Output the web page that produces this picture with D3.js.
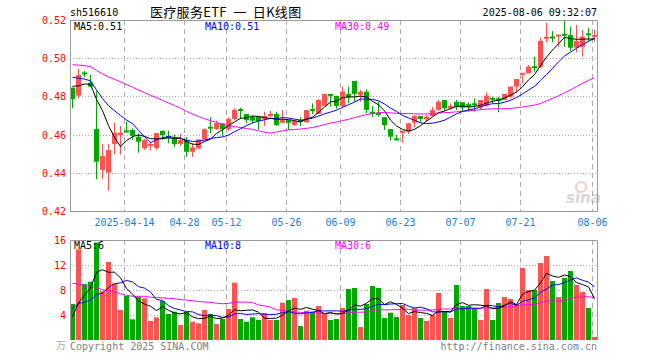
<!DOCTYPE html>
<html><head><meta charset="utf-8">
<script src="https://cdn.jsdelivr.net/npm/d3@7"></script>
<style>html,body{margin:0;padding:0;background:#fff;}svg{display:block;}</style>
</head><body>
<svg id="c" width="660" height="360"></svg>
<script>
// ---------- data ----------
const dates = [
"2025-03-31","2025-04-01","2025-04-02","2025-04-03","2025-04-07","2025-04-08","2025-04-09","2025-04-10","2025-04-11",
"2025-04-14","2025-04-15","2025-04-16","2025-04-17","2025-04-18","2025-04-21","2025-04-22","2025-04-23","2025-04-24","2025-04-25",
"2025-04-28","2025-04-29","2025-04-30",
"2025-05-06","2025-05-07","2025-05-08","2025-05-09","2025-05-12","2025-05-13","2025-05-14","2025-05-15","2025-05-16",
"2025-05-19","2025-05-20","2025-05-21","2025-05-22","2025-05-23","2025-05-26","2025-05-27","2025-05-28","2025-05-29","2025-05-30",
"2025-06-03","2025-06-04","2025-06-05","2025-06-06","2025-06-09","2025-06-10","2025-06-11","2025-06-12","2025-06-13",
"2025-06-16","2025-06-17","2025-06-18","2025-06-19","2025-06-20","2025-06-23","2025-06-24","2025-06-25","2025-06-26","2025-06-27","2025-06-30",
"2025-07-01","2025-07-02","2025-07-03","2025-07-04","2025-07-07","2025-07-08","2025-07-09","2025-07-10","2025-07-11",
"2025-07-14","2025-07-15","2025-07-16","2025-07-17","2025-07-18","2025-07-21","2025-07-22","2025-07-23","2025-07-24","2025-07-25",
"2025-07-28","2025-07-29","2025-07-30","2025-07-31","2025-08-01","2025-08-04","2025-08-05","2025-08-06"];

const open = [0.4846,0.4804,0.4922,0.4872,0.4629,0.4415,0.4401,0.4551,0.4598,0.4619,
0.4624,0.4589,0.4528,0.4540,0.4530,0.4620,0.4590,0.4582,0.4551,0.4572,
0.4510,0.4528,0.4575,0.4638,0.4628,0.4659,0.4628,0.4682,0.4730,0.4708,
0.4694,0.4694,0.4682,0.4697,0.4708,0.4662,0.4676,0.4650,0.4673,0.4664,
0.4731,0.4708,0.4750,0.4813,0.4803,0.4750,0.4813,0.4881,0.4807,0.4825,
0.4720,0.4710,0.4691,0.4629,0.4577,0.4610,0.4615,0.4662,0.4697,0.4680,
0.4697,0.4729,0.4781,0.4738,0.4772,0.4769,0.4759,0.4762,0.4741,0.4751,
0.4789,0.4790,0.4781,0.4798,0.4851,0.4916,0.4921,0.4955,0.4955,0.5104,
0.5110,0.5116,0.5124,0.5121,0.5055,0.5060,0.5127,0.5113];
const high = [0.4846,0.4945,0.4933,0.4912,0.4828,0.4551,0.4551,0.4662,0.4645,0.4668,
0.4633,0.4607,0.4577,0.4563,0.4608,0.4620,0.4620,0.4600,0.4603,0.4587,
0.4554,0.4575,0.4633,0.4691,0.4673,0.4660,0.4691,0.4738,0.4741,0.4708,
0.4700,0.4694,0.4720,0.4725,0.4720,0.4729,0.4676,0.4676,0.4691,0.4729,
0.4764,0.4785,0.4813,0.4813,0.4803,0.4851,0.4851,0.4881,0.4834,0.4837,
0.4750,0.4772,0.4691,0.4629,0.4598,0.4620,0.4659,0.4703,0.4697,0.4703,
0.4746,0.4781,0.4781,0.4764,0.4781,0.4769,0.4769,0.4790,0.4781,0.4821,
0.4798,0.4798,0.4813,0.4851,0.4891,0.4921,0.4964,0.5008,0.5107,0.5186,
0.5142,0.5121,0.5195,0.5165,0.5174,0.5148,0.5160,0.5148];
const low = [0.4738,0.4790,0.4900,0.4851,0.4366,0.4368,0.4306,0.4497,0.4495,0.4610,
0.4572,0.4505,0.4519,0.4516,0.4519,0.4575,0.4554,0.4535,0.4540,0.4484,
0.4483,0.4523,0.4572,0.4607,0.4625,0.4594,0.4620,0.4676,0.4682,0.4659,
0.4659,0.4624,0.4645,0.4691,0.4645,0.4659,0.4624,0.4645,0.4645,0.4664,
0.4708,0.4708,0.4750,0.4746,0.4736,0.4738,0.4764,0.4772,0.4772,0.4712,
0.4691,0.4694,0.4624,0.4568,0.4568,0.4558,0.4603,0.4638,0.4662,0.4668,
0.4697,0.4725,0.4725,0.4729,0.4729,0.4720,0.4720,0.4720,0.4729,0.4746,
0.4764,0.4717,0.4781,0.4790,0.4821,0.4869,0.4921,0.4929,0.4947,0.5083,
0.5083,0.5060,0.5060,0.5038,0.5031,0.5008,0.5086,0.5086];
const close = [0.4785,0.4912,0.4918,0.4851,0.4458,0.4488,0.4519,0.4610,0.4610,0.4614,
0.4594,0.4563,0.4572,0.4551,0.4608,0.4598,0.4585,0.4551,0.4572,0.4510,
0.4533,0.4575,0.4628,0.4634,0.4660,0.4628,0.4682,0.4729,0.4727,0.4676,
0.4673,0.4671,0.4697,0.4708,0.4650,0.4676,0.4662,0.4671,0.4669,0.4729,
0.4727,0.4781,0.4813,0.4803,0.4750,0.4825,0.4795,0.4813,0.4825,0.4729,
0.4708,0.4706,0.4650,0.4589,0.4573,0.4620,0.4659,0.4697,0.4682,0.4694,
0.4729,0.4772,0.4738,0.4750,0.4746,0.4741,0.4746,0.4755,0.4781,0.4804,
0.4785,0.4776,0.4813,0.4851,0.4891,0.4921,0.4955,0.4951,0.5090,0.5109,
0.5107,0.5121,0.5121,0.5055,0.5090,0.5113,0.5123,0.5121];
const volume = [5.76,14.5,8.96,9.33,15.6,7.8,12.5,9.07,4.8,7.04,
3.3,6.93,6.67,3.04,3.63,6.24,4.16,4.53,2.4,4.53,
2.93,2.67,4.8,4.16,2.56,3.36,4.96,9.17,3.36,2.93,
3.63,3.2,4.27,3.2,3.2,5.97,6.4,6.72,2.24,4.69,
4.53,5.44,4.16,3.2,3.36,5.12,8.16,8.32,2.08,5.76,
8.64,8.32,3.52,4.37,3.68,5.6,4.0,5.12,3.52,3.04,
4.0,7.52,4.59,3.52,8.8,5.44,5.44,5.01,3.2,8.16,
3.2,5.92,6.88,6.56,5.76,11.52,8.0,8.0,12.32,13.44,
9.44,6.88,9.92,11.04,8.8,7.68,5.12,0.48];
// closes / volumes of the 29 sessions before the window (estimated from the MA lines)
const priorCloses = [0.497,0.499,0.503,0.505,0.502,0.500,0.498,0.501,0.504,0.502,
0.500,0.498,0.497,0.499,0.501,0.499,0.497,0.498,0.500,0.497,
0.496,0.497,0.494,0.493,0.494,0.490,0.487,0.486,0.485];
const priorVolumes = [18,17,19,16,17,15,17,14,14.2,
8,7,6.5,7.5,6,7,6.5,6,7,6.5,6.15,
7,6.5,6,7,5.55,
3.5,3,3.2,3.2];

const priceTicks = [0.42,0.44,0.46,0.48,0.50,0.52];
const volumeTicks = [4,8,12,16];
const tickDates = ["2025-04-14","2025-04-28","2025-05-12","2025-05-26","2025-06-09","2025-06-23","2025-07-07","2025-07-21","2025-08-06"];
const tickLabels = ["2025-04-14","04-28","05-12","05-26","06-09","06-23","07-07","07-21","08-06"];
const symbol = "sh516610";
const title = "医疗服务ETF 一 日K线图";
const stamp = "2025-08-06 09:32:07";

// ---------- drawing ----------
const svg = d3.select("#c");
const MONO = "'DejaVu Sans Mono', 'Liberation Mono', monospace";
const RED = "#ff5353", GREEN = "#00a800", GRID = "#aaaaaa", BORDER = "#999999";
const L = 70, R = 597, T = 20, B = 211, VT = 240, VB = 340;

const x = d3.scaleBand().domain(dates).range([69, 597]);
const y = d3.scaleLinear().domain([0.42, 0.52]).range([211, 20]);
const yv = d3.scaleLinear().domain([0, 16]).range([340, 240]);
const cx = d => x(d) + 3.5;

function ma(series, prior, n) {
  const all = prior.concat(series);
  return series.map((_, i) => d3.mean(all.slice(i + prior.length - n + 1, i + prior.length + 1)));
}
const pMA = {5: ma(close, priorCloses, 5), 10: ma(close, priorCloses, 10), 30: ma(close, priorCloses, 30)};
const vMA = {5: ma(volume, priorVolumes, 5), 10: ma(volume, priorVolumes, 10), 30: ma(volume, priorVolumes, 30)};
const maColor = {5: "#000000", 10: "#0000ff", 30: "#ff00ff"};

const g = svg.append("g");

// horizontal dotted grid lines
g.selectAll(".hp").data(priceTicks.filter(t => t > 0.42 && t < 0.52)).join("line")
  .attr("x1", L).attr("x2", R).attr("y1", d => Math.round(y(d)) + 0.5).attr("y2", d => Math.round(y(d)) + 0.5)
  .attr("stroke", GRID).attr("stroke-dasharray", "1,2");
g.selectAll(".hv").data(volumeTicks.filter(t => t < 16)).join("line")
  .attr("x1", L).attr("x2", R).attr("y1", d => Math.round(yv(d)) + 0.5).attr("y2", d => Math.round(yv(d)) + 0.5)
  .attr("stroke", GRID).attr("stroke-dasharray", "1,2");

// vertical dashed grid lines
[[T, B], [VT, VB]].forEach(([a, b]) => {
  g.append("g").selectAll("line").data(tickDates).join("line")
    .attr("x1", d => x(d) + 1.5).attr("x2", d => x(d) + 1.5)
    .attr("y1", a).attr("y2", b)
    .attr("stroke", GRID).attr("stroke-dasharray", "5,4");
});

// watermark
const wm = g.append("g").attr("opacity", 0.55);
wm.append("circle").attr("cx", 581).attr("cy", 187).attr("r", 5).attr("fill", "none").attr("stroke", "#f2a0a0").attr("stroke-width", 2);
wm.append("text").attr("x", 566).attr("y", 203).attr("font-family", "'DejaVu Sans', sans-serif").attr("font-style", "italic")
  .attr("font-weight", "bold").attr("font-size", 15).attr("fill", "#b8b8b8").text("sina");

// candles
const idx = d3.range(dates.length);
const colorOf = i => close[i] >= open[i] ? RED : GREEN;
g.append("g").selectAll("line").data(idx).join("line")
  .attr("x1", i => cx(dates[i])).attr("x2", i => cx(dates[i]))
  .attr("y1", i => y(high[i])).attr("y2", i => y(low[i]))
  .attr("stroke", colorOf).attr("stroke-width", 1);
g.append("g").selectAll("rect").data(idx).join("rect")
  .attr("x", i => x(dates[i]) + 1).attr("width", 5)
  .attr("y", i => { const t = y(Math.max(open[i], close[i])), b = y(Math.min(open[i], close[i])); return (b - t < 2) ? (t + b) / 2 - 1 : t; })
  .attr("height", i => Math.max(2, Math.abs(y(open[i]) - y(close[i]))))
  .attr("fill", colorOf);

// volume bars
g.append("g").selectAll("rect").data(idx).join("rect")
  .attr("x", i => x(dates[i]) + 1).attr("width", 5)
  .attr("y", i => yv(volume[i])).attr("height", i => yv(0) - yv(volume[i]))
  .attr("fill", colorOf);

// moving average lines
const lineP = d3.line().x((d, i) => cx(dates[i])).y(d => y(d));
const lineV = d3.line().x((d, i) => cx(dates[i])).y(d => yv(d));
[30, 10, 5].forEach(n => {
  g.append("path").attr("d", lineP(pMA[n])).attr("fill", "none").attr("stroke", maColor[n]).attr("stroke-width", 1);
  g.append("path").attr("d", lineV(vMA[n])).attr("fill", "none").attr("stroke", maColor[n]).attr("stroke-width", 1);
});

// borders
g.append("path").attr("d", `M${L + 0.5},${T + 0.5}H${R + 0.5}V${B + 0.5}H${L + 0.5}Z`).attr("fill", "none").attr("stroke", BORDER);
g.append("path").attr("d", `M${L + 0.5},${VB + 0.5}V${VT + 0.5}H${R + 0.5}V${VB + 0.5}`).attr("fill", "none").attr("stroke", BORDER);

// axis labels
const txt = (sel) => sel.attr("font-family", MONO).attr("font-size", 10);
g.append("g").selectAll("text").data(priceTicks).join("text").call(txt)
  .attr("x", 66).attr("y", d => y(d) + 4).attr("text-anchor", "end").attr("fill", "#ff0000")
  .text(d => d.toFixed(2));
g.append("g").selectAll("text").data(volumeTicks).join("text").call(txt)
  .attr("x", 66).attr("y", d => yv(d) + 4).attr("text-anchor", "end").attr("fill", "#ff0000")
  .text(d => d);
g.append("text").attr("x", 56).attr("y", 349).attr("font-family", "'Noto Sans CJK SC', sans-serif").attr("font-size", 10).attr("fill", "#aaaaaa").text("万");
g.append("g").selectAll("text").data(tickDates).join("text").call(txt)
  .attr("x", d => x(d) + 1.5).attr("y", 226).attr("text-anchor", "middle").attr("fill", "#1a7fd4")
  .text((d, i) => tickLabels[i]);

// header
g.append("text").call(txt).attr("x", 70).attr("y", 16).attr("fill", "#000").text(symbol);
g.append("text").attr("x", 150).attr("y", 17).attr("font-family", "'Noto Sans CJK SC', sans-serif").attr("font-size", 13)
  .attr("letter-spacing", 0.3).style("white-space", "pre").attr("fill", "#000").text(title.replace(/ /g, "  "));
g.append("text").call(txt).attr("x", 597).attr("y", 16).attr("text-anchor", "end").attr("fill", "#000").text(stamp);

// MA legends
const last = a => a[a.length - 1];
const legX = {5: 74, 10: 205, 30: 335};
[5, 10, 30].forEach(n => {
  g.append("text").call(txt).attr("x", legX[n]).attr("y", 30).attr("fill", maColor[n]).text(`MA${n}:${last(pMA[n]).toFixed(2)}`);
  g.append("text").call(txt).attr("x", legX[n]).attr("y", 249).attr("fill", maColor[n]).text(`MA${n}:${Math.floor(last(vMA[n]))}`);
});

// footer
g.append("text").call(txt).attr("x", 70).attr("y", 350).attr("fill", "#808080").text("Copyright 2025 SINA.COM");
g.append("text").call(txt).attr("x", 597).attr("y", 350).attr("text-anchor", "end").attr("fill", "#808080").text("http://finance.sina.com.cn");
</script>
</body></html>
